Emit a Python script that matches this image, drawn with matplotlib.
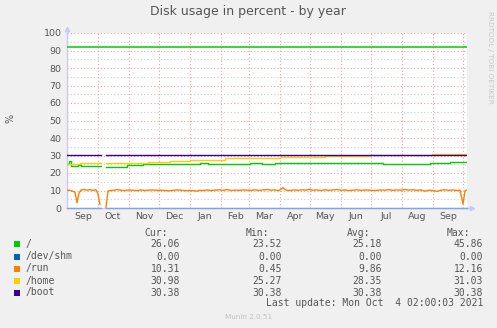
import numpy as np
import matplotlib
matplotlib.use("Agg")
import matplotlib.pyplot as plt
import matplotlib.dates as mdates
from matplotlib.patches import Rectangle
import datetime as dt

# ---------------- data ----------------
start_date = dt.datetime(2020, 8, 31)
span_days = 400

# "/" (root) step values: day offset from start, value
root_day = [0, 2, 4, 11, 14, 33, 34, 39, 60, 76, 133, 141, 183, 195, 208, 316, 363, 383, 400]
root_val = [25.0, 27.0, 24.0, 24.6, 24.0, 24.0, np.nan, 23.5, 24.4, 25.1, 25.7, 25.1, 25.5, 25.0, 25.5, 25.0, 25.5, 26.1, 26.1]

# /dev/shm
shm_day = [0, 33, 34, 39, 400]
shm_val = [0.0, 0.0, np.nan, 0.0, 0.0]

# /run
run_day = [0, 3, 6, 8, 10, 12, 14, 17, 20, 23, 26, 29, 31, 33, 34, 39, 41, 44, 48, 51, 54,
           58, 62, 66, 70, 74, 78, 82, 86, 90, 94, 98, 102, 106, 110, 114, 118, 122, 126,
           130, 132, 136, 140, 144, 148, 152, 156, 160, 164, 168, 172, 176, 180, 184, 188,
           192, 196, 200, 204, 208, 212, 216, 219, 223, 227, 231, 235, 239, 242, 246, 250,
           254, 258, 262, 266, 270, 274, 278, 282, 286, 290, 294, 298, 302, 306, 310, 314,
           318, 322, 326, 330, 334, 338, 342, 346, 350, 354, 358, 362, 366, 370, 374, 378,
           382, 386, 390, 393, 396, 398, 400]
run_val = [10.2, 10.1, 9.5, 9.0, 3.0, 8.5, 10.3, 10.6, 10.2, 10.5, 10.1, 10.4, 8.0, 2.0, np.nan,
           0.45, 9.8, 10.0, 10.2, 10.6, 10.1, 10.0, 10.3, 10.1, 9.9, 10.3, 10.0, 10.2, 10.3,
           10.1, 10.2, 10.0, 9.8, 10.1, 10.3, 10.2, 9.9, 10.0, 9.9, 9.6, 10.1, 10.0, 10.3,
           10.0, 10.2, 10.4, 10.1, 10.6, 10.0, 10.2, 10.1, 10.3, 10.2, 10.1, 10.4, 10.0, 10.3,
           10.6, 10.2, 10.3, 10.0, 11.6, 10.2, 10.0, 10.3, 10.1, 10.4, 10.2, 10.7, 10.1, 10.3,
           10.0, 10.4, 10.1, 10.3, 10.6, 10.1, 10.3, 10.0, 10.2, 10.4, 10.1, 10.3, 10.2, 10.0,
           10.1, 10.3, 10.2, 10.5, 10.1, 10.3, 10.2, 10.6, 10.2, 10.4, 10.1, 10.3, 9.6, 10.2,
           10.0, 9.5, 10.2, 10.4, 10.1, 10.3, 10.0, 10.2, 2.3, 9.8, 10.3]

# /home step values
home_day = [0, 13, 33, 34, 39, 81, 103, 123, 158, 213, 258, 303, 365, 400]
home_val = [25.3, 25.9, 25.9, np.nan, 25.9, 26.5, 27.0, 27.4, 28.3, 29.0, 29.7, 30.3, 30.98, 30.98]

# /boot
boot_day = [0, 33, 34, 39, 400]
boot_val = [30.38, 30.38, np.nan, 30.38, 30.38]

warning_level = 92

series_names = ["/", "/dev/shm", "/run", "/home", "/boot"]
series_colors = ["#00CC00", "#0066B3", "#FF8000", "#FFCC00", "#330099"]
cur_vals = ["26.06", "0.00", "10.31", "30.98", "30.38"]
min_vals = ["23.52", "0.00", "0.45", "25.27", "30.38"]
avg_vals = ["25.18", "0.00", "9.86", "28.35", "30.38"]
max_vals = ["45.86", "0.00", "12.16", "31.03", "30.38"]

y_ticks = list(range(0, 101, 10))
title = "Disk usage in percent - by year"
last_update = "Last update: Mon Oct  4 02:00:03 2021"

# ---------------- figure ----------------
W, H = 497, 328
fig = plt.figure(figsize=(W / 100, H / 100), dpi=100)
fig.patch.set_facecolor("#F0F0F0")

def fx(px):
    return px / W

def fy(py):
    return 1 - py / H

L, R, T, B = 67, 467, 33, 208
ax = fig.add_axes([fx(L), fy(B), fx(R - L), (B - T) / H])
ax.set_facecolor("white")

def to_dates(days):
    return [mdates.date2num(start_date + dt.timedelta(days=d)) for d in days]

x0 = mdates.date2num(start_date)
x1 = mdates.date2num(start_date + dt.timedelta(days=span_days))
ax.set_xlim(x0, x1)
ax.set_ylim(0, 100)

# grid
grid_red = "#F3A0A0"
for yv in range(5, 100, 10):
    ax.axhline(yv, color="#CFCFCF", lw=0.8, ls=(0, (1, 2)), zorder=1)
for yv in range(10, 101, 10):
    ax.axhline(yv, color=grid_red, lw=0.8, ls=(0, (1, 2)), zorder=1)
m = dt.datetime(2020, 10, 1)
while m < start_date + dt.timedelta(days=span_days):
    ax.axvline(mdates.date2num(m), color=grid_red, lw=0.8, ls=(0, (1, 2)), zorder=1)
    m = dt.datetime(m.year + (m.month // 12), m.month % 12 + 1, 1)

# axes styling
for s in ["top", "right"]:
    ax.spines[s].set_visible(False)
axis_col = "#C8C8FF"
ax.spines["left"].set_color(axis_col)
ax.spines["bottom"].set_color(axis_col)
ax.spines["left"].set_linewidth(1.0)
ax.spines["bottom"].set_linewidth(1.0)
ax.spines["left"].set_zorder(2)
ax.spines["bottom"].set_zorder(2)

# data
lw = 1.0
ax.plot(to_dates(shm_day), shm_val, color="#7FA8DA", lw=lw, drawstyle="steps-post", zorder=3, clip_on=False)
ax.plot(to_dates(root_day), root_val, color=series_colors[0], lw=lw, drawstyle="steps-post", zorder=3)
ax.plot(to_dates(run_day), run_val, color=series_colors[2], lw=lw, zorder=3)
ax.plot(to_dates(home_day), home_val, color=series_colors[3], lw=lw, drawstyle="steps-post", zorder=3)
ax.plot(to_dates(boot_day), boot_val, color=series_colors[4], lw=lw, drawstyle="steps-post", zorder=4)
ax.axhline(warning_level, color=series_colors[0], lw=1.1, zorder=4)

# arrows
ax.plot([0], [1.025], marker="^", color=axis_col, ms=3, transform=ax.transAxes, clip_on=False)
ax.plot([1.012], [0], marker=">", color=axis_col, ms=3, transform=ax.transAxes, clip_on=False)
ax.plot([0, 0], [1.0, 1.025], color=axis_col, lw=1, transform=ax.transAxes, clip_on=False)
ax.plot([1.0, 1.012], [0, 0], color=axis_col, lw=1, transform=ax.transAxes, clip_on=False)

ax.set_yticks(y_ticks)
ax.tick_params(axis="y", length=0, labelsize=6.8, labelcolor="#555555", pad=4)
ax.xaxis.set_major_locator(mdates.MonthLocator(bymonthday=1))
ax.xaxis.set_major_formatter(plt.NullFormatter())
ax.xaxis.set_minor_locator(mdates.MonthLocator(bymonthday=16))
ax.xaxis.set_minor_formatter(mdates.DateFormatter("%b"))
ax.tick_params(axis="x", which="both", length=0, labelsize=6.8, labelcolor="#555555", pad=3)

# texts
fig.text(fx(248), fy(12), title, ha="center", va="center", fontsize=9, color="#555555")
fig.text(fx(10), fy(118), "%", ha="center", va="center", rotation=90, fontsize=7, color="#555555")
fig.text(fx(490), fy(57), "RRDTOOL / TOBI OETIKER", ha="center", va="center", rotation=270,
         fontsize=5.2, color="#C8C8C8")
fig.text(fx(249), fy(317), "Munin 2.0.51", ha="center", va="center", fontsize=5.2, color="#C0C0C0")

mono = "DejaVu Sans Mono"
fs = 7
tc = "#555555"
fig.text(fx(168), fy(233), "Cur:", ha="right", va="center", family=mono, fontsize=fs, color=tc)
fig.text(fx(246), fy(233), "Min:", ha="left", va="center", family=mono, fontsize=fs, color=tc)
fig.text(fx(347), fy(233), "Avg:", ha="left", va="center", family=mono, fontsize=fs, color=tc)
fig.text(fx(447), fy(233), "Max:", ha="left", va="center", family=mono, fontsize=fs, color=tc)
row_y = [244, 256.5, 268.5, 280.7, 292.5]
for i, name in enumerate(series_names):
    yy = row_y[i]
    fig.add_artist(Rectangle((fx(14), fy(yy + 3)), fx(6), 6 / H, transform=fig.transFigure,
                             facecolor=series_colors[i], edgecolor="none"))
    fig.text(fx(26), fy(yy), name, ha="left", va="center", family=mono, fontsize=fs, color=tc)
    fig.text(fx(180), fy(yy), cur_vals[i], ha="right", va="center", family=mono, fontsize=fs, color=tc)
    fig.text(fx(282), fy(yy), min_vals[i], ha="right", va="center", family=mono, fontsize=fs, color=tc)
    fig.text(fx(382), fy(yy), avg_vals[i], ha="right", va="center", family=mono, fontsize=fs, color=tc)
    fig.text(fx(483), fy(yy), max_vals[i], ha="right", va="center", family=mono, fontsize=fs, color=tc)
fig.text(fx(483), fy(303.5), last_update, ha="right", va="center", family=mono, fontsize=fs, color=tc)

fig.savefig("out.png", dpi=100, facecolor=fig.get_facecolor())
